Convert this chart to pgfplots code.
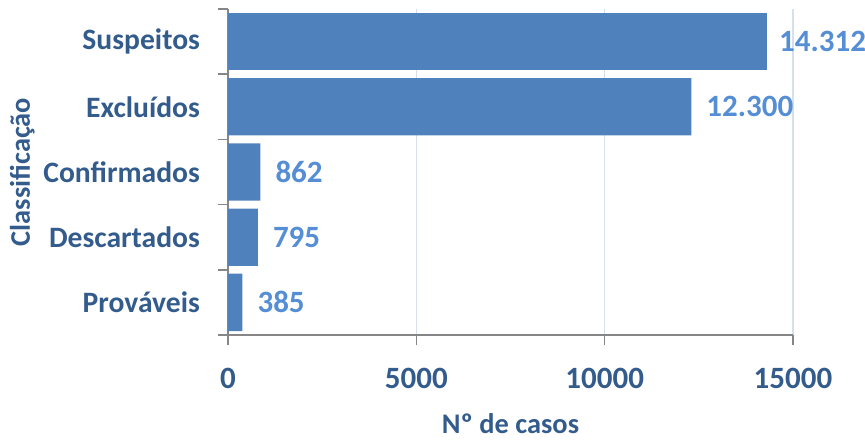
\documentclass[border=0pt]{standalone}
\usepackage{pgfplots}
\pgfplotsset{compat=1.18}
\usepackage{fontspec}
\setmainfont{Carlito}

\definecolor{barblue}{HTML}{4F81BD}
\definecolor{labblue}{HTML}{335C8C}
\definecolor{valblue}{HTML}{558ED5}
\definecolor{gridblue}{HTML}{D6E0EC}
\definecolor{axgray}{HTML}{868686}

\begin{document}
\begin{tikzpicture}
\begin{axis}[
  xbar,
  bar shift=0pt,
  scale only axis,
  width=282.5pt, height=163pt,
  xmin=0, xmax=15000,
  ymin=-0.5, ymax=4.5,
  bar width=0.88,
  axis x line*=bottom,
  axis y line*=left,
  axis line style={draw=axgray, line width=0.8pt, -},
  tick align=outside,
  scaled x ticks=false,
  /pgf/number format/assume math mode=true,
  xtick={0,5000,10000,15000},
  xticklabels={0,5000,10000,15000},
  xtick style={draw=axgray, line width=0.8pt},
  xmajorgrids,
  major grid style={draw=gridblue, line width=0.6pt},
  ytick={0,1,2,3,4},
  yticklabels={Prováveis,Descartados,Confirmados,Excluídos,Suspeitos},
  minor ytick={-0.5,0.5,1.5,2.5,3.5,4.5},
  ytick style={draw=axgray, line width=0.8pt},
  major y tick style={draw=none},
  major tick length=5pt,
  minor tick length=5pt,
  ticklabel style={font=\fontsize{15.5}{18}\selectfont\bfseries, text=labblue},
  xticklabel style={yshift=-8pt},
  yticklabel style={xshift=-5.5pt, font=\fontsize{14.8}{18}\selectfont\bfseries},
  xlabel={Nº de casos},
  ylabel={Classificação},
  label style={font=\fontsize{14.2}{17}\selectfont\bfseries, text=labblue},
  xlabel style={yshift=-5.5pt},
  ylabel style={yshift=-2.5pt},
  nodes near coords={\pgfmathprintnumber[1000 sep={.}, assume math mode=true]{\pgfplotspointmeta}},
  nodes near coords style={font=\fontsize{15.5}{18}\selectfont\bfseries, text=valblue, anchor=west, xshift=4pt},
  clip=false,
]
\addplot[fill=barblue, draw=none] coordinates {
  (385,0) (795,1) (862,2) (12300,3)
};
% last label sits closer to its bar, as in the reference
\addplot[fill=barblue, draw=none, nodes near coords style={xshift=-1.5pt}] coordinates {
  (14312,4)
};
\coordinate (ll) at (rel axis cs:-0.4035,-0.319);
\coordinate (ur) at (rel axis cs:1.1274,1.0276);
\end{axis}
\pgfresetboundingbox
\path[use as bounding box] (ll) rectangle (ur);
\end{tikzpicture}
\end{document}
